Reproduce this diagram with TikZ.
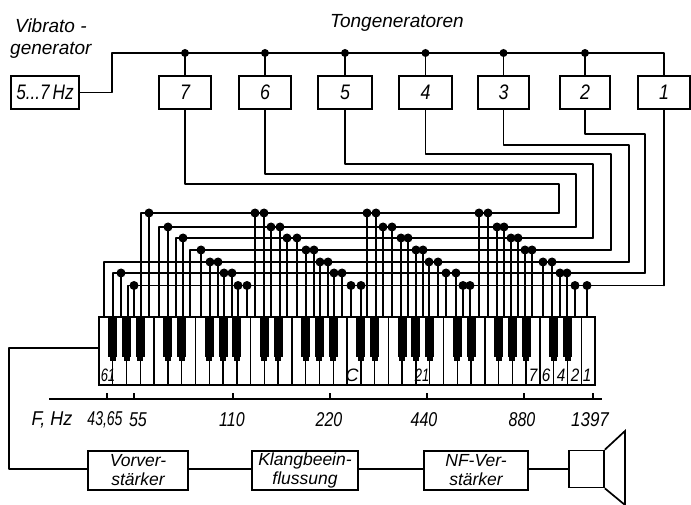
\documentclass[tikz,border=0pt]{standalone}
\usepackage{fontspec}
\setmainfont{Liberation Sans}
\tikzset{
  wire/.style={line width=1.5pt,line cap=round,line join=round},
  blk/.style={draw,line width=1.7pt,inner sep=0pt,font=\fontsize{21}{23}\selectfont\itshape},
  blk2/.style={blk,font=\fontsize{17.5}{19}\selectfont\itshape,align=center},
  dot/.style={circle,fill=black,inner sep=0pt,minimum size=9pt},
  tdot/.style={circle,fill=black,inner sep=0pt,minimum size=8pt},
  lab/.style={inner sep=0pt,font=\fontsize{19}{22}\selectfont\itshape,align=left},
  keynum/.style={inner sep=0pt,font=\fontsize{18}{19}\selectfont\itshape},
  axl/.style={inner sep=0pt,font=\fontsize{20}{22}\selectfont\itshape}
}
\newcommand{\bus}[5]{% name, y, corner x, right x of bus, dot list
  \coordinate (#1l) at (#3,#2);
  \coordinate (#1r) at (#4,#2);
  \draw[wire] (#1r) -- (#1l) -- (#1l |- kb.north);
  \foreach \x [count=\i] in {#5} {
    \node[dot] (#1d\i) at (\x,#2) {};
    \draw[wire] (#1d\i.center) -- (#1d\i.center |- kb.north);
  }
}
\begin{document}
\begin{tikzpicture}[x=1pt,y=-1pt]
\useasboundingbox (0,0) rectangle (691,505);
% keyboard
\node[draw,line width=1.6pt,minimum width=496pt,minimum height=68pt,inner sep=0pt] (kb) at (347,351) {};
\foreach \k in {1,...,35} {
  \pgfmathtruncatemacro{\m}{mod(\k,7)}
  \pgfmathsetmacro{\xx}{99+\k*13.78}
  \ifnum\m=0
    \draw[line width=1.4pt] (\xx,317) -- (\xx,385);
  \else\ifnum\m=4
    \draw[line width=1.4pt] (\xx,317) -- (\xx,385);
  \else
    \draw[line width=1.4pt] (\xx,355) -- (\xx,385);
    \fill (\xx-4.5,317) rectangle (\xx+4.5,357);
    \fill (\xx-3,357) rectangle (\xx+3,361);
  \fi\fi
}
% generators
\node[blk,minimum width=68pt,minimum height=33pt] (vib) at (45,92.5) {\scalebox{0.82}[1]{5...7\,Hz}};
\foreach \n/\x/\w in {7/185/52,6/265/52,5/345/54,4/425.5/53,3/503.5/51,2/585/50,1/664/52} {
  \node[blk,minimum width=\w pt,minimum height=33pt] (g\n) at (\x,92.5) {\scalebox{0.85}[1]{\n}};
}
% vibrato line
\coordinate (tl) at (112,53);
\draw[wire] (vib.east) -| (tl) -| (g1.north);
\foreach \n in {7,6,5,4,3,2} {
  \node[tdot] (t\n) at (g\n.north |- tl) {};
  \draw[wire] (t\n.center) -- (g\n.north);
}
% buses
\bus{a}{213}{141}{559}{149,255,264,367,376,479,488}
\bus{b}{227}{159}{576}{168,271,280,383,392,497,504}
\bus{c}{238}{176}{593}{183,287,297,401,408,511,518}
\bus{d}{250}{190}{611}{201,306,314,416,423,525,532}
\bus{e}{262}{104}{629}{210,218,320,328,429,438,543,552}
\bus{f}{273}{113}{645}{121,224,232,334,342,446,456,560,567}
\bus{g}{285.5}{128}{664}{134,238,247,351,361,463,470,575,587}
% generator outputs
\draw[wire] (g7.south) |- (559,184) -- (ar);
\draw[wire] (g6.south) |- (576,174) -- (br);
\draw[wire] (g5.south) |- (593,164) -- (cr);
\draw[wire] (g4.south) |- (611,154) -- (dr);
\draw[wire] (g3.south) |- (629,145) -- (er);
\draw[wire] (g2.south) |- (645,134) -- (fr);
\draw[wire] (g1.south) -- (gr);
% key numbers
\node[keynum] (k61) at (108,375) {\scalebox{0.72}[1]{61}};
\node[keynum] (kC) at (352,375) {C};
\node[keynum] (k21) at (422,375) {\scalebox{0.72}[1]{21}};
\node[keynum] (k7) at (533,375) {\scalebox{0.85}[1]{7}};
\node[keynum] (k6) at (546,375) {\scalebox{0.85}[1]{6}};
\node[keynum] (k4) at (561,375) {\scalebox{0.85}[1]{4}};
\node[keynum] (k2) at (575,375) {\scalebox{0.85}[1]{2}};
\node[keynum] (k1) at (587,375) {\scalebox{0.85}[1]{1}};
% scale
\coordinate (sl) at (49,399);
\coordinate (sr) at (602,399);
\draw[line width=1.3pt] (sl) -- (sr);
\foreach \x in {107,134,233,330,427,524,593} {\draw[line width=1.1pt] (\x,393) -- (\x,399);}
\node[axl] (fhz) at (52,420) {\scalebox{0.9}[1]{F, Hz}};
\node[axl] (f1) at (105,420) {\scalebox{0.7}[1]{43,65}};
\node[axl] (f2) at (138,420) {\scalebox{0.8}[1]{55}};
\node[axl] (f3) at (232,420) {\scalebox{0.8}[1]{110}};
\node[axl] (f4) at (329,420) {\scalebox{0.8}[1]{220}};
\node[axl] (f5) at (424,420) {\scalebox{0.8}[1]{440}};
\node[axl] (f6) at (522,420) {\scalebox{0.8}[1]{880}};
\node[axl] (f7) at (590,420) {\scalebox{0.85}[1]{1397}};
% lower chain
\node[blk2,minimum width=100pt,minimum height=39pt] (vv) at (138,470.5) {Vorver-\\stärker};
\node[blk2,minimum width=106pt,minimum height=39pt] (kl) at (305,470.5) {Klangbeein-\\flussung};
\node[blk2,minimum width=104pt,minimum height=39pt] (nf) at (476,470.5) {NF-Ver-\\stärker};
\node[draw,line width=1.7pt,minimum width=35pt,minimum height=37pt,inner sep=0pt] (sp) at (586.5,469) {};
\coordinate (kw) at (9,469);
\draw[wire] (kb.west |- 0,348) -- (9,348) -- (kw) -- (vv.west |- kw);
\draw[wire] (vv.east |- kw) -- (kl.west |- kw);
\draw[wire] (kl.east |- kw) -- (nf.west |- kw);
\draw[wire] (nf.east |- kw) -- (sp.west);
\coordinate (c1) at (625,431);
\coordinate (c2) at (625,505);
\draw[line width=1.7pt] (sp.north east) -- (c1) -- (c2) -- (sp.south east);
% headings
\node[lab,anchor=west] (h1) at (15,26) {Vibrato -};
\node[lab,anchor=west] (h2) at (10,50) {generator};
\node[lab,anchor=west] (h3) at (330,23) {Tongeneratoren};
\end{tikzpicture}
\end{document}
